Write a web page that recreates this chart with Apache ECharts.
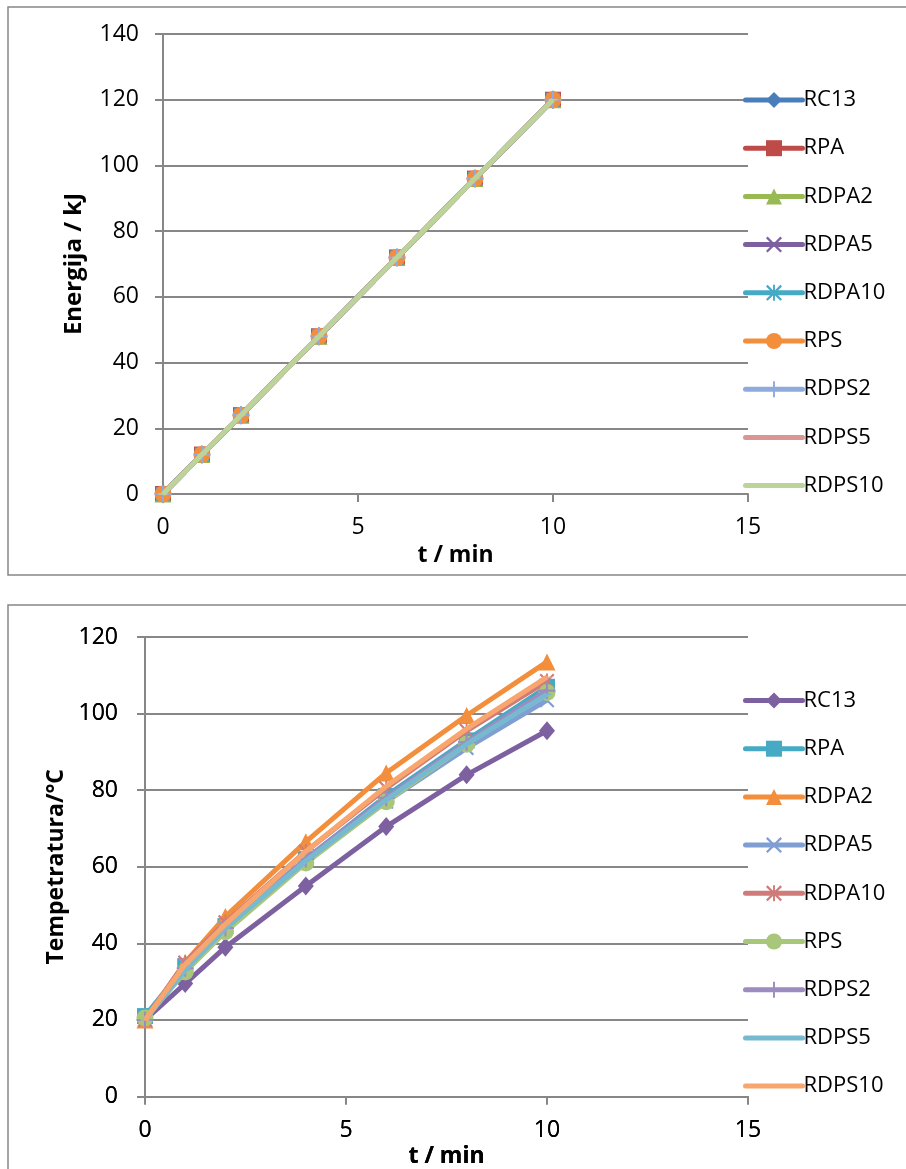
<!DOCTYPE html>
<html>
<head>
<meta charset="utf-8">
<script src="https://cdn.jsdelivr.net/npm/echarts@6/dist/echarts.min.js"></script>
<style>
html,body{margin:0;padding:0;background:#fff;}
#c{width:906px;height:1169px;position:relative;}
</style>
</head>
<body>
<div id="c"></div>
<script>
// ---- data ----
const seriesNames = ['RC13','RPA','RDPA2','RDPA5','RDPA10','RPS','RDPS2','RDPS5','RDPS10'];
const timeMin = [0, 1, 2, 4, 6, 8, 10];
const xTicks = [0, 5, 10, 15];

// Top chart: Energija / kJ
const energyRC13   = [0, 12, 24, 48, 72, 96, 120];
const energyRPA    = [0, 12, 24, 48, 72, 96, 120];
const energyRDPA2  = [0, 12, 24, 48, 72, 96, 120];
const energyRDPA5  = [0, 12, 24, 48, 72, 96, 120];
const energyRDPA10 = [0, 12, 24, 48, 72, 96, 120];
const energyRPS    = [0, 12, 24, 48, 72, 96, 120];
const energyRDPS2  = [0, 12, 24, 48, 72, 96, 120];
const energyRDPS5  = [0, 12, 24, 48, 72, 96, 120];
const energyRDPS10 = [0, 12, 24, 48, 72, 96, 120];
const energyTicks = [0, 20, 40, 60, 80, 100, 120, 140];

// Bottom chart: Temperatura / °C
const tempRC13   = [20, 29.5, 39, 55, 70.5, 84, 95.5];
const tempRPA    = [21, 34, 44.5, 62, 78.5, 93, 107];
const tempRDPA2  = [20, 35, 47, 66.5, 84.5, 99.5, 113.5];
const tempRDPA5  = [20, 34.5, 44, 61.5, 77, 91, 103.5];
const tempRDPA10 = [20, 35, 45.5, 64, 80.5, 95.5, 108.5];
const tempRPS    = [20.5, 32.5, 43, 61, 77, 92, 105.5];
const tempRDPS2  = [20, 33.5, 44, 62, 78, 92.5, 106];
const tempRDPS5  = [20, 33, 44, 61.5, 77.5, 92, 105];
const tempRDPS10 = [20, 34.5, 45, 64, 81, 96, 109.5];
const tempTicks = [0, 20, 40, 60, 80, 100, 120];

const energyData = [energyRC13, energyRPA, energyRDPA2, energyRDPA5, energyRDPA10, energyRPS, energyRDPS2, energyRDPS5, energyRDPS10];
const tempData = [tempRC13, tempRPA, tempRDPA2, tempRDPA5, tempRDPA10, tempRPS, tempRDPS2, tempRDPS5, tempRDPS10];

// ---- styles ----
const topColors = ['#4A7EBB','#BE4B48','#98B954','#7D60A0','#46AAC5','#F28E3C','#8FAADC','#D99694','#BCD49A'];
const botColors = ['#7D60A0','#46AAC5','#F28E3C','#7F9ED2','#CF7B79','#A9C77A','#9D8CC0','#76B9D0','#F8A66E'];
const P_X = 'path://M0,1 L1,0 L5,4 L9,0 L10,1 L6,5 L10,9 L9,10 L5,6 L1,10 L0,9 L4,5 Z';
const P_STAR = 'path://M0,1 L1,0 L5,4 L9,0 L10,1 L6,5 L10,9 L9,10 L5,6 L1,10 L0,9 L4,5 Z M4.4,0 L5.6,0 L5.6,10 L4.4,10 Z';
const P_PLUS = 'path://M4.4,0 L5.6,0 L5.6,4.4 L10,4.4 L10,5.6 L5.6,5.6 L5.6,10 L4.4,10 L4.4,5.6 L0,5.6 L0,4.4 L4.4,4.4 Z';
// thin horizontal dash inside a 10x10 box (moveTo points keep the box size)
const P_DASH = 'path://M0,0 M10,10 M0,4.3 L10,4.3 L10,5.7 L0,5.7 Z';
const symbols = ['diamond','rect','triangle',P_X,P_STAR,'circle',P_PLUS,P_DASH,P_DASH];
const symSizes = [[16,19],16,17,15,15,17,17,9,9];

const FONT = '"Open Sans", Lato, sans-serif';
const GRAY = '#878787';

function pair(xs, ys){ return xs.map((x,i)=>[x, ys[i]]); }

function makeSeries(dataArr, colors, idx){
  return dataArr.map((ys, i) => ({
    name: seriesNames[i],
    type: 'line',
    xAxisIndex: idx, yAxisIndex: idx,
    data: pair(timeMin, ys),
    symbol: symbols[i],
    symbolSize: symSizes[i],
    showSymbol: true,
    color: colors[i],
    lineStyle: {width: 5, color: colors[i]},
    itemStyle: {color: colors[i]},
    emphasis: {disabled: true},
    animation: false,
    z: 2 + i
  }));
}

const axisCommon = {
  axisLine: {show: true, onZero: false, lineStyle: {color: GRAY, width: 2}},
  axisTick: {show: true, length: 8, lineStyle: {color: GRAY, width: 2}},
  nameTextStyle: {color: '#000', fontFamily: FONT, fontSize: 23, fontWeight: 'bold'}
};

function xAxis(idx, gap, margin){
  return Object.assign({}, JSON.parse(JSON.stringify(axisCommon)), {
    type: 'value', gridIndex: idx, min: 0, max: 15, interval: 5,
    name: 't / min', nameLocation: 'middle', nameGap: gap,
    splitLine: {show: false},
    axisLabel: {color: '#000', fontFamily: FONT, fontSize: 23, margin: margin,
      formatter: v => xTicks.includes(v) ? String(v) : ''}
  });
}
function yAxis(idx, max, name, ticks, gap, margin, nameSize){
  const a = Object.assign({}, JSON.parse(JSON.stringify(axisCommon)), {
    type: 'value', gridIndex: idx, min: 0, max: max, interval: 20,
    name: name, nameLocation: 'middle', nameGap: gap, nameRotate: 90,
    splitLine: {show: true, lineStyle: {color: GRAY, width: 2}},
    axisLabel: {color: '#000', fontFamily: FONT, fontSize: 23, margin: margin,
      formatter: v => ticks.includes(v) ? String(v) : ''}
  });
  a.nameTextStyle.fontSize = nameSize;
  return a;
}

function legend(top){
  return {
    orient: 'vertical', left: 738, top: top,
    itemWidth: 57, itemHeight: 20, itemGap: 24.2,
    data: seriesNames.map(n => ({name: n})),
    lineStyle: {width: 5, cap: 'round'},
    textStyle: {color: '#000', fontFamily: FONT, fontSize: 22, lineHeight: 24, padding: [0,0,0,-4]},
    selectedMode: false
  };
}

const chart = echarts.init(document.getElementById('c'), null, {renderer: 'canvas'});
const seriesTop = makeSeries(energyData, topColors, 0);
const seriesBot = makeSeries(tempData, botColors, 1);

chart.setOption({
  backgroundColor: '#fff',
  animation: false,
  grid: [
    {left: 163, top: 34, width: 585, height: 460},
    {left: 145, top: 637, width: 603, height: 459.5}
  ],
  xAxis: [xAxis(0, 50, 22), xAxis(1, 48, 22)],
  yAxis: [yAxis(0, 140, 'Energija / kJ', energyTicks, 77, 24, 24), yAxis(1, 120, '', tempTicks, 66, 27, 23)],
  series: seriesTop,
  graphic: [
    {type: 'rect', shape: {x: 8, y: 7, width: 920, height: 568}, style: {fill: 'none', stroke: GRAY, lineWidth: 1.5}, z: 0, silent: true},
    {type: 'rect', shape: {x: 8, y: 605, width: 920, height: 600}, style: {fill: 'none', stroke: GRAY, lineWidth: 1.5}, z: 0, silent: true}
  ],
  legend: [legend(83)]
});

// Bottom chart: second instance overlaid so it can carry its own legend with the same series names
const div2 = document.createElement('div');
div2.style.cssText = 'position:absolute;left:0;top:0;width:906px;height:1169px;pointer-events:none;';
document.getElementById('c').appendChild(div2);
const chart2 = echarts.init(div2, null, {renderer: 'canvas'});
chart2.setOption({
  animation: false,
  grid: [
    {left: 163, top: 34, width: 585, height: 460, show: false},
    {left: 145, top: 637, width: 603, height: 459.5}
  ],
  xAxis: [Object.assign(xAxis(0, 50, 22), {show: false}), xAxis(1, 48, 22)],
  yAxis: [Object.assign(yAxis(0, 140, '', energyTicks, 77, 24, 24), {show: false}), yAxis(1, 120, 'Tempetratura/°C', tempTicks, 66, 27, 23)],
  series: seriesBot,
  legend: [legend(683.5)]
});
</script>
</body>
</html>
